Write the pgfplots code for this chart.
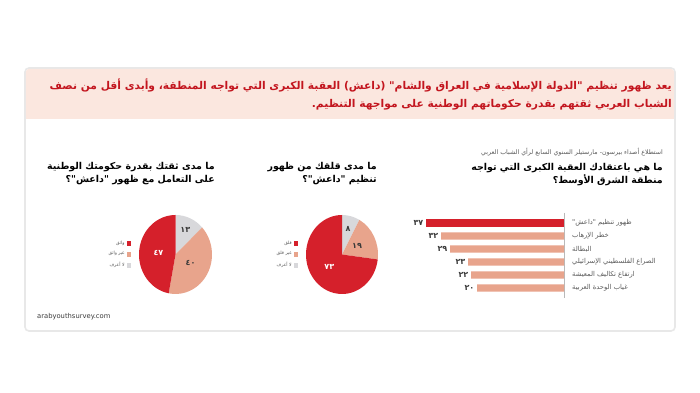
\documentclass[border=0pt]{standalone}
\usepackage{fontspec}
\setmainfont{DejaVu Sans}
\newfontfamily\ar[Script=Arabic]{DejaVu Sans}
\TeXXeTstate=1
\usepackage{pgfplots}
\usepackage{pgfplotstable}
\pgfplotsset{compat=1.18}

\definecolor{cred}{HTML}{D5202B}
\definecolor{csal}{HTML}{E8A48C}
\definecolor{cgry}{HTML}{D8D8DB}
\definecolor{hdr}{HTML}{C3161F}
\definecolor{pinkbg}{HTML}{FBE7DF}
\definecolor{txt}{HTML}{3A3A3A}
\definecolor{lbl}{HTML}{5A5A5A}

% Western digits -> Arabic-Indic digits
\def\ardigone#1{\ifcase#1 ٠\or ١\or ٢\or ٣\or ٤\or ٥\or ٦\or ٧\or ٨\or ٩\fi}
\def\ardig#1{\ifx#1\relax\else\ardigone#1\expandafter\ardig\fi}
\newcommand\ardigits[1]{\expandafter\ardig#1\relax}

\pgfplotstableread{
value col tc
13 cgry txt
40 csal txt
47 cred white
}\pieTrust

\pgfplotstableread{
value col tc
8 cgry txt
19 csal txt
73 cred white
}\pieWorry

\pgfplotstableread{
x y
37 0
}\barTop
\pgfplotstableread{
x y
32 1
29 2
23 3
22 4
20 5
}\barRest

\newcommand\pielabfont{\ar\bfseries\fontsize{8}{9}\selectfont}
\newcommand\drawpie[3]{%
  \pgfplotstablegetrowsof{#1}%
  \pgfmathtruncatemacro\pien{\pgfplotsretval-1}%
  \def\piecum{0}%
  \pgfplotsforeachungrouped \pii in {0,...,\pien}{%
    \pgfplotstablegetelem{\pii}{value}\of{#1}\let\pieV\pgfplotsretval
    \pgfplotstablegetelem{\pii}{col}\of{#1}\let\pieC\pgfplotsretval
    \pgfplotstablegetelem{\pii}{tc}\of{#1}\let\pieT\pgfplotsretval
    \pgfmathsetmacro\pieA{90-3.6*\piecum}%
    \pgfmathsetmacro\pieB{90-3.6*(\piecum+\pieV)}%
    \pgfmathsetmacro\pieM{(\pieA+\pieB)/2}%
    \pgfmathsetmacro\pieR{\pieV<15 ? 0.68 : 0.47}%
    \edef\pietmp{\noexpand\fill[\pieC] (axis cs:0,0) -- (axis cs:{cos(\pieA)},{sin(\pieA)}) arc[start angle=\pieA, end angle=\pieB, x radius=#2, y radius=#3] -- cycle;
      \noexpand\node[text=\pieT, font=\noexpand\pielabfont, inner sep=0pt] at (axis cs:{\pieR*cos(\pieM)},{\pieR*sin(\pieM)}) {\noexpand\ardigits{\pieV}};}%
    \pietmp
    \pgfmathsetmacro\piecum{\piecum+\pieV}%
  }%
}
\pgfplotsset{
  legsq/.style={legend image code/.code={\fill[##1] (0,-1.9bp) rectangle (3.8bp,1.9bp);}},
  pieaxis/.style={anchor=center, xmin=-1, xmax=1, ymin=-1, ymax=1, hide axis, clip=false,
    legend plot pos=right,
    legend style={draw=none, fill=none, inner sep=0pt, at={(-0.11,0.5)}, anchor=east,
      font=\ar\fontsize{4.5}{5}\selectfont, text=lbl, row sep=1.6bp,
      cells={anchor=east}, /tikz/every even column/.append style={column sep=2bp}}},
}

\begin{document}
\begin{tikzpicture}[x=1bp,y=1bp]
\path[use as bounding box] (0,0) rectangle (700bp,393bp);
\fill[white] (0,0) rectangle (700bp,393bp);
% card
\draw[gray!18, line width=1.6bp, rounded corners=4bp, fill=white] (25bp,62bp) rectangle (675bp,325bp);
\fill[pinkbg, rounded corners=3.5bp] (25.8bp,274bp) rectangle (674.2bp,324.2bp);
\fill[pinkbg] (25.8bp,274bp) rectangle (674.2bp,290bp);

% header
\node[anchor=east, text=hdr, font=\ar\bfseries\fontsize{10.75}{19}\selectfont, align=right, inner sep=0pt] at (672bp,298.5bp)
 {\beginR يعد ظهور تنظيم "الدولة الإسلامية في العراق والشام" (داعش) العقبة الكبرى التي تواجه المنطقة، وأبدى أقل من نصف\endR\\
  \beginR الشباب العربي ثقتهم بقدرة حكوماتهم الوطنية على مواجهة التنظيم.\endR};

% source line
\node[anchor=east, text=lbl, font=\ar\fontsize{6.3}{8}\selectfont, inner sep=0pt] at (663bp,241bp)
 {\beginR استطلاع أصداء بيرسون- مارستيلر السنوي السابع لرأي الشباب العربي\endR};

% titles
\node[anchor=east, text=black, font=\ar\bfseries\fontsize{9.5}{12.5}\selectfont, align=right, inner sep=0pt] at (663bp,218.5bp)
 {\beginR ما هي باعتقادك العقبة الكبرى التي تواجه\endR\\\beginR منطقة الشرق الأوسط؟\endR};
\node[anchor=east, text=black, font=\ar\bfseries\fontsize{9.5}{12.5}\selectfont, align=right, inner sep=0pt] at (377bp,219.5bp)
 {\beginR ما مدى قلقك من ظهور\endR\\\beginR تنظيم "داعش"؟\endR};
\node[anchor=east, text=black, font=\ar\bfseries\fontsize{9.5}{12.5}\selectfont, align=right, inner sep=0pt] at (215bp,219.5bp)
 {\beginR ما مدى ثقتك بقدرة حكومتك الوطنية\endR\\\beginR على التعامل مع ظهور "داعش"؟\endR};

% footer
\node[anchor=west, text=txt, font=\fontsize{6.8}{8}\selectfont, inner sep=0pt] at (37bp,76bp) {arabyouthsurvey.com};

% bar chart
\begin{axis}[at={(564bp,180bp)}, anchor=north east, x=3bp, y=13bp,
  xmin=0, xmax=50, ymin=-0.77, ymax=5.77, x dir=reverse, y dir=reverse,
  xbar, bar width=7.2bp, bar shift=0pt, x filter/.expression={x+9},
  hide x axis, axis y line*=right, axis line style={draw=gray!55, line width=0.5bp},
  major tick length=0pt, ytick={0,...,5},
  yticklabels={{\beginR ظهور تنظيم "داعش"\endR},{\beginR خطر الإرهاب\endR},{\beginR البطالة\endR},
    {\beginR الصراع الفلسطيني الإسرائيلي\endR},{\beginR ارتفاع تكاليف المعيشة\endR},{\beginR غياب الوحدة العربية\endR}},
  yticklabel style={font=\ar\fontsize{6.8}{8}\selectfont, text=lbl, inner sep=0pt},
  yticklabel shift=8bp,
  clip=false,
  nodes near coords={\ardigits{\pgfplotspointmeta}}, point meta=explicit symbolic,
  every node near coord/.append style={anchor=east, font=\ar\bfseries\fontsize{8}{9}\selectfont, text=txt, inner sep=2.5bp},
]
\addplot[fill=cred, draw=none] table[x=x, y=y, meta=x] {\barTop};
\addplot[fill=csal, draw=none] table[x=x, y=y, meta=x] {\barRest};
\end{axis}

% worry pie
\begin{axis}[pieaxis, at={(342bp,138.5bp)}, x=36bp, y=39.5bp]
\addlegendimage{legsq, cred}\addlegendentry{\beginR قلق\endR}
\addlegendimage{legsq, csal}\addlegendentry{\beginR غير قلق\endR}
\addlegendimage{legsq, cgry}\addlegendentry{\beginR لا أعرف\endR}
\drawpie{\pieWorry}{36bp}{39.5bp}
\end{axis}

% trust pie
\begin{axis}[pieaxis, at={(175.5bp,138.5bp)}, x=36.5bp, y=39.5bp]
\addlegendimage{legsq, cred}\addlegendentry{\beginR واثق\endR}
\addlegendimage{legsq, csal}\addlegendentry{\beginR غير واثق\endR}
\addlegendimage{legsq, cgry}\addlegendentry{\beginR لا أعرف\endR}
\drawpie{\pieTrust}{36.5bp}{39.5bp}
\end{axis}
\end{tikzpicture}
\end{document}
